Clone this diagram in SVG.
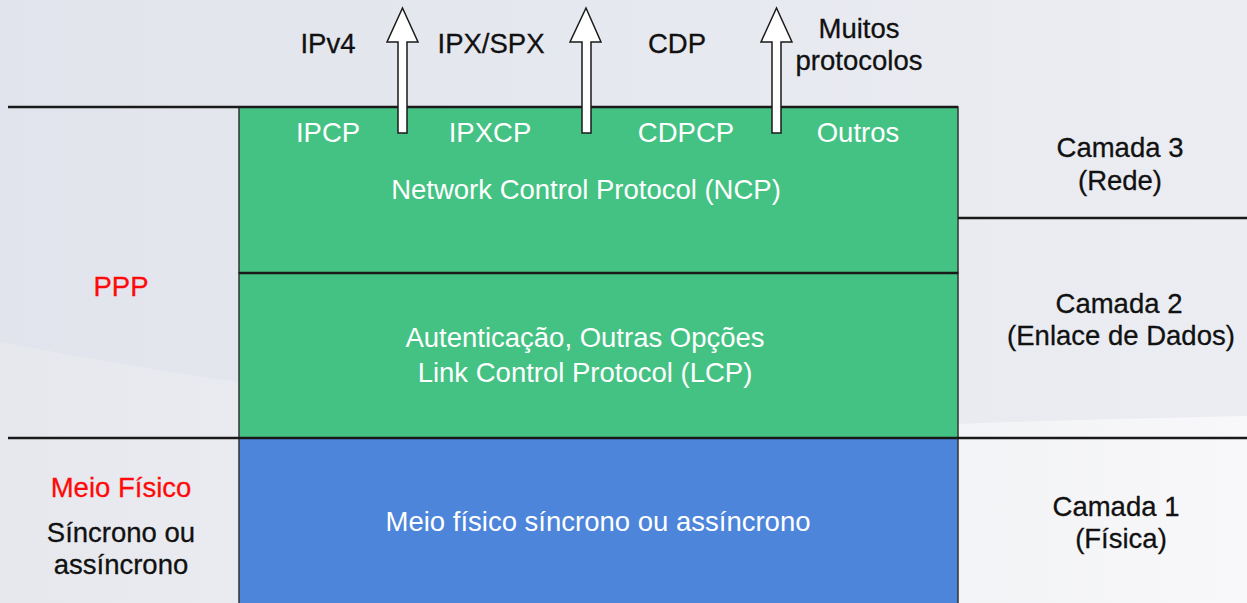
<svg xmlns="http://www.w3.org/2000/svg" width="1247" height="603" viewBox="0 0 1247 603">
  <defs>
    <linearGradient id="bgBase" x1="0" y1="0" x2="1" y2="0">
      <stop offset="0" stop-color="#E1E4EC"/>
      <stop offset="1" stop-color="#EBEDF2"/>
    </linearGradient>
    <linearGradient id="bgSwoosh" x1="0" y1="0" x2="1" y2="0">
      <stop offset="0" stop-color="#E6E8EE"/>
      <stop offset="0.7" stop-color="#F1F2F5"/>
      <stop offset="1" stop-color="#F8F8FA"/>
    </linearGradient>
    <style>
      .t { font-family: "Liberation Sans", Arial, Helvetica, sans-serif; font-size: 27.5px; text-anchor: middle; }
      .dark { fill: #111111; stroke: #111111; stroke-width: 0.3; }
      .light { fill: #FFFFFF; }
      .red { fill: #FF0A0A; stroke: #FF0A0A; stroke-width: 0.3; }
      .rule { stroke: #1A1A1A; stroke-width: 2.5; fill: none; }
      .edge { stroke: #333333; stroke-width: 1.5; }
      .arrow { fill: #FFFFFF; stroke: #1A1A1A; stroke-width: 1.5; stroke-linejoin: miter; }
    </style>
  </defs>

  <!-- slide background with a lighter sweep towards the bottom -->
  <rect x="0" y="0" width="1247" height="603" fill="url(#bgBase)"/>
  <path d="M0,342 C260,392 620,440 958,424 C1060,420 1160,418 1247,416 L1247,603 L0,603 Z" fill="url(#bgSwoosh)"/>

  <!-- protocol stack blocks -->
  <g id="ncp">
    <rect x="239" y="107" width="719" height="166" fill="#44C283" class="edge"/>
    <text class="t light" x="328" y="142">IPCP</text>
    <text class="t light" x="490" y="142">IPXCP</text>
    <text class="t light" x="686" y="142">CDPCP</text>
    <text class="t light" x="858" y="142">Outros</text>
    <text class="t light" x="586" y="199">Network Control Protocol (NCP)</text>
  </g>

  <g id="lcp">
    <rect x="239" y="273" width="719" height="165" fill="#44C283" class="edge"/>
    <text class="t light" x="585" y="347">Autenticação, Outras Opções</text>
    <text class="t light" x="585" y="382">Link Control Protocol (LCP)</text>
  </g>

  <g id="physical">
    <rect x="239" y="438" width="719" height="170" fill="#4D85DB" class="edge"/>
    <text class="t light" x="598" y="531">Meio físico síncrono ou assíncrono</text>
  </g>

  <!-- layer boundaries -->
  <g id="rules">
    <line class="rule" x1="8" y1="107" x2="958" y2="107"/>
    <line class="rule" x1="239" y1="273" x2="958" y2="273"/>
    <line class="rule" x1="958" y1="218" x2="1247" y2="218"/>
    <line class="rule" x1="8" y1="438" x2="1247" y2="438"/>
  </g>

  <!-- upper-layer protocols -->
  <g id="upper-protocols">
    <text class="t dark" x="328" y="53">IPv4</text>
    <text class="t dark" x="491" y="53">IPX/SPX</text>
    <text class="t dark" x="677" y="53">CDP</text>
    <text class="t dark" x="859" y="38">Muitos</text>
    <text class="t dark" x="859" y="70">protocolos</text>
  </g>

  <!-- left captions -->
  <g id="ppp-label">
    <text class="t red" x="121" y="296">PPP</text>
  </g>
  <g id="medium-label">
    <text class="t red" x="121" y="497">Meio Físico</text>
    <text class="t dark" x="121" y="542">Síncrono ou</text>
    <text class="t dark" x="121" y="574">assíncrono</text>
  </g>

  <!-- OSI layer captions -->
  <g id="layer3">
    <text class="t dark" x="1120" y="157">Camada 3</text>
    <text class="t dark" x="1120" y="190">(Rede)</text>
  </g>
  <g id="layer2">
    <text class="t dark" x="1119" y="313">Camada 2</text>
    <text class="t dark" x="1121" y="345">(Enlace de Dados)</text>
  </g>
  <g id="layer1">
    <text class="t dark" x="1116" y="516">Camada 1</text>
    <text class="t dark" x="1121" y="548">(Física)</text>
  </g>

  <!-- hollow arrows from the NCPs up to the network protocols -->
  <g id="connectors">
    <polygon class="arrow" points="398,133 398,42 387,42 402.5,8 418,42 407,42 407,133"/>
    <polygon class="arrow" points="582,133 582,42 570,42 586,8 601,42 591,42 591,133"/>
    <polygon class="arrow" points="772,133 772,42 761,42 776.5,8 792,42 781,42 781,133"/>
  </g>
</svg>
